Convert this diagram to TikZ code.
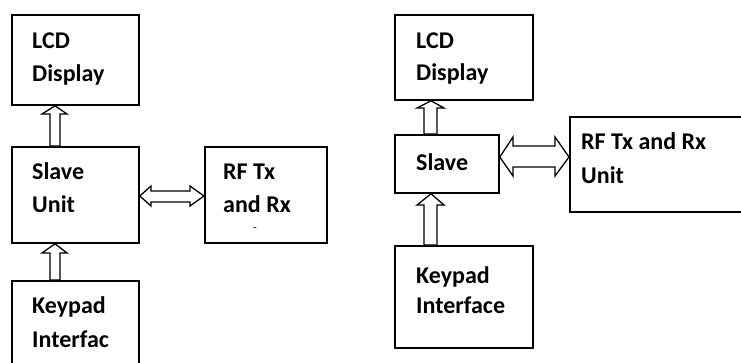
\documentclass[tikz,border=0pt]{standalone}
\usepackage{fontspec}
\setmainfont{Carlito}
\usetikzlibrary{calc}
\tikzset{
  box/.style={draw=black, line width=1.8pt, inner sep=0pt, anchor=north west},
  lbl/.style={inner sep=0pt, anchor=base west, font=\fontsize{24}{28}\selectfont\bfseries},
  barrow/.style={draw=black, line width=1.3pt, fill=white, line join=miter}
}
\begin{document}
\begin{tikzpicture}[x=1pt,y=-1pt]
\useasboundingbox (0,0) rectangle (741,362);
\clip (0,0) rectangle (741,362);
% ---- left diagram ----
\node[box, minimum width=127pt, minimum height=90pt] (lcdL) at (11,14) {};
\node[box, minimum width=127pt, minimum height=96pt] (slaveL) at (11,146) {};
\node[box, minimum width=122pt, minimum height=96pt] (rfL) at (204,146) {};
\node[box, minimum width=127pt, minimum height=100pt] (keyL) at (11,280) {};
\node[lbl] (tL1) at (32,48) {LCD};
\node[lbl] (tL2) at (32,81) {Display};
\node[lbl] (tL3) at (32,179) {Slave};
\node[lbl] (tL4) at (32,212) {Unit};
\node[lbl] (tL5) at (223,179) {RF Tx};
\node[lbl] (tL6) at (223,212) {and Rx};
\node[lbl] (tL7) at (32,313) {Keypad};
\node[lbl] (tL8) at (32,347) {Interfac};
\node[inner sep=0pt, font=\fontsize{12}{12}\selectfont] (dashL) at (255,230) {-};
% up arrow slave -> lcd
\draw[barrow] (55,0 |- lcdL.south) -- (67,114) -- (60,114) -- (60,0 |- slaveL.north) -- (50,0 |- slaveL.north) -- (50,114) -- (42,114) -- cycle;
% up arrow keypad -> slave
\draw[barrow] (55,0 |- slaveL.south) -- (67,253) -- (60,253) -- (60,0 |- keyL.north) -- (50,0 |- keyL.north) -- (50,253) -- (42,253) -- cycle;
% double arrow slave <-> rf
\draw[barrow] (slaveL.east |- 0,196) -- (151,186) -- (151,191) -- (190,191) -- (190,186) -- (rfL.west |- 0,196) -- (190,206) -- (190,202) -- (151,202) -- (151,206) -- cycle;
% ---- right diagram ----
\node[box, minimum width=138pt, minimum height=85pt] (lcdR) at (394,14) {};
\node[box, minimum width=104pt, minimum height=58pt] (slaveR) at (394,134) {};
\node[box, minimum width=180pt, minimum height=95pt] (rfR) at (569,116) {};
\node[box, minimum width=138pt, minimum height=102pt] (keyR) at (394,245) {};
\node[lbl] (tR1) at (416,48) {LCD};
\node[lbl] (tR2) at (416,80) {Display};
\node[lbl] (tR3) at (416,170) {Slave};
\node[lbl] (tR4) at (581,149) {RF Tx and Rx};
\node[lbl] (tR5) at (581,183) {Unit};
\node[lbl] (tR6) at (416,283) {Keypad};
\node[lbl] (tR7) at (416,313) {Interface};
% up arrow slave -> lcd
\draw[barrow] (431,0 |- lcdR.south) -- (444,108) -- (437,108) -- (437,0 |- slaveR.north) -- (424,0 |- slaveR.north) -- (424,108) -- (417,108) -- cycle;
% up arrow keypad -> slave
\draw[barrow] (431,0 |- slaveR.south) -- (444,205) -- (437,205) -- (437,0 |- keyR.north) -- (424,0 |- keyR.north) -- (424,205) -- (417,205) -- cycle;
% double arrow slave <-> rf
\draw[barrow] (slaveR.east |- 0,157) -- (513,137) -- (513,146) -- (555,146) -- (555,137) -- (rfR.west |- 0,157) -- (555,176) -- (555,167) -- (513,167) -- (513,176) -- cycle;
\end{tikzpicture}
\end{document}
